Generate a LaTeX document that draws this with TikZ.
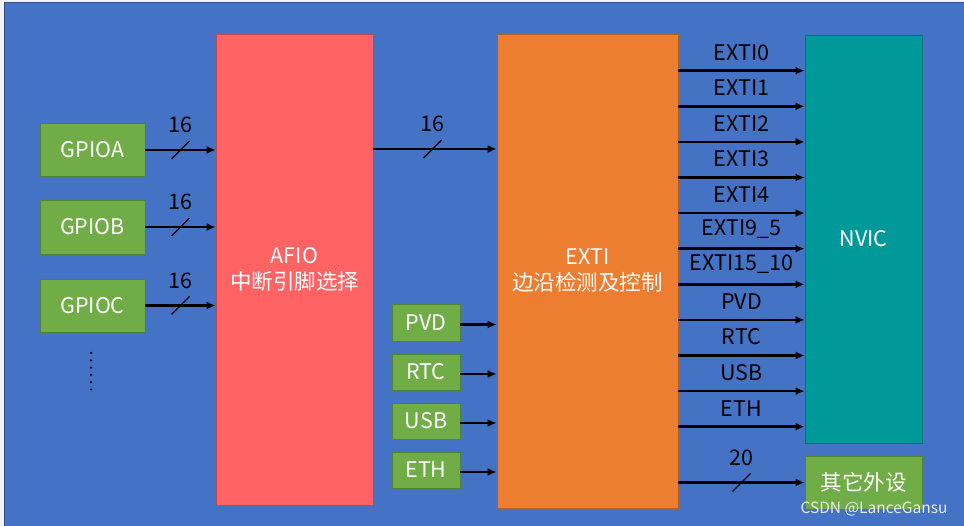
\documentclass[tikz,border=0pt]{standalone}
\usepackage{fontspec}
\setmainfont{Noto Sans CJK SC}
\usetikzlibrary{arrows.meta}
\definecolor{bgblue}{HTML}{4472C4}
\definecolor{gbox}{HTML}{70AD47}
\definecolor{afiored}{HTML}{FF6363}
\definecolor{extiorg}{HTML}{ED7D31}
\definecolor{nvicteal}{HTML}{009999}
\tikzset{
  blk/.style={draw=#1!75!black, fill=#1, line width=0.8pt, text=white, inner sep=0pt, align=center},
  bus/.style={line width=2.6pt, -{Latex[length=9pt,width=8pt]}},
  slash/.style={line width=1.4pt},
  lab/.style={text=black, inner sep=0pt}
}
\begin{document}
\begin{tikzpicture}[x=1pt,y=-1pt,font=\fontsize{21.5}{26}\selectfont]
\useasboundingbox (0,0) rectangle (964,526);
\fill[black!5] (0,0) rectangle (964,526);
\filldraw[fill=bgblue, draw=bgblue!70!black, line width=0.6pt] (4,2) rectangle (966,528);
\node[blk=gbox, minimum width=105, minimum height=53](gpioa) at (92.5,150){GPIOA};
\node[blk=gbox, minimum width=105, minimum height=54](gpiob) at (92.5,227){GPIOB};
\node[blk=gbox, minimum width=105, minimum height=53](gpioc) at (92.5,305.5){GPIOC};
\draw[line width=2.5pt, line cap=round, dash pattern=on 0pt off 7.3pt] (91,353) -- (91,391);
\node[blk=afiored, minimum width=157, minimum height=471](afio) at (294.5,269.5){AFIO\\中断引脚选择};
\node[blk=extiorg, minimum width=181, minimum height=474](exti) at (587.5,271){EXTI\\边沿检测及控制};
\node[blk=gbox, minimum width=68, minimum height=37](pvd) at (426,322.5){PVD};
\node[blk=gbox, minimum width=68, minimum height=36](rtc) at (426,372){RTC};
\node[blk=gbox, minimum width=68, minimum height=36](usb) at (426,421){USB};
\node[blk=gbox, minimum width=68, minimum height=36](eth) at (426,470){ETH};
\node[blk=nvicteal, minimum width=117, minimum height=408](nvic) at (863.5,239){NVIC};
\node[blk=gbox, minimum width=117, minimum height=53](other) at (863.5,482.5){其它外设};
\draw[bus] (gpioa.east) -- coordinate[midway](sa) (gpioa.east -| afio.west);
\draw[bus] (gpiob.east) -- coordinate[midway](sb) (gpiob.east -| afio.west);
\draw[bus] (gpioc.east) -- coordinate[midway](sc) (gpioc.east -| afio.west);
\draw[bus] (afio.east |- 0,149) -- coordinate[pos=0.48](sd) (exti.west |- 0,149);
\draw[bus] (exti.east |- other.west) -- coordinate[midway](se) (other.west);
\foreach \s/\n in {sa/16,sb/16,sc/16,sd/16,se/20}{
  \draw[slash] (\s) +(-9,9) -- +(9,-9);
  \node[lab](n\s) at ([shift={(0,-25)}]\s){\n};
}
\foreach \p in {pvd,rtc,usb,eth}
  \draw[bus] ([yshift=-2]\p.east) -- ([yshift=-2]\p.east -| exti.west);
\foreach \l [count=\i] in {EXTI0,EXTI1,EXTI2,EXTI3,EXTI4,EXTI9\_5,EXTI15\_10,PVD,RTC,USB,ETH}{
  \pgfmathsetmacro\yy{70.7+(\i-1)*35.6}
  \draw[bus] (exti.east |- 0,\yy) -- node[lab, above=9pt](l\i){\l} (nvic.west |- 0,\yy);
}
\node[text=white!85!gray, font=\fontsize{15.5}{18}\selectfont](wm) at (874,509){CSDN @LanceGansu};
\end{tikzpicture}
\end{document}
